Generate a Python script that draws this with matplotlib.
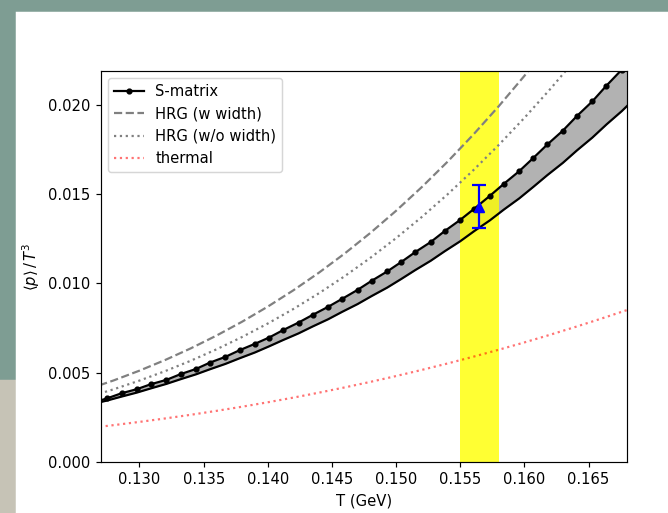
import matplotlib
matplotlib.use("Agg")
import matplotlib.pyplot as plt
from matplotlib.patches import Rectangle

# Temperatures of the S-matrix points (GeV)
T_smat = [0.1263, 0.1275, 0.1286, 0.1298, 0.1309, 0.1321, 0.1332, 0.1344, 0.1355,
          0.1367, 0.1378, 0.1390, 0.1401, 0.1412, 0.1424, 0.1435, 0.1447, 0.1458,
          0.1470, 0.1481, 0.1493, 0.1504, 0.1515, 0.1527, 0.1538, 0.1550, 0.1561,
          0.1573, 0.1584, 0.1596, 0.1607, 0.1618, 0.1630, 0.1641, 0.1653, 0.1664,
          0.1676, 0.1687]
# S-matrix curve (upper edge of band, with markers)
p_smat = [0.00331, 0.00357, 0.00385, 0.00408, 0.00436, 0.00460, 0.00492, 0.00521,
          0.00557, 0.00589, 0.00626, 0.00662, 0.00697, 0.00739, 0.00781, 0.00824,
          0.00869, 0.00914, 0.00964, 0.01015, 0.01067, 0.01120, 0.01176, 0.01232,
          0.01294, 0.01356, 0.01419, 0.01490, 0.01558, 0.01629, 0.01703, 0.01779,
          0.01856, 0.01938, 0.02020, 0.02108, 0.02198, 0.02290]
# lower edge of the band
p_low = [0.003239, 0.003448, 0.003663, 0.003889, 0.004126, 0.004375, 0.004636,
         0.004909, 0.005196, 0.005495, 0.005808, 0.006135, 0.006477, 0.006833,
         0.007204, 0.007591, 0.007993, 0.008411, 0.008845, 0.009296, 0.009764,
         0.010249, 0.010751, 0.011271, 0.011808, 0.012364, 0.012937, 0.013528,
         0.014137, 0.014764, 0.015410, 0.016073, 0.016754, 0.017453, 0.018170,
         0.018905, 0.019657, 0.020425]

# model curves
T_curve = [0.126, 0.128, 0.130, 0.132, 0.134, 0.136, 0.138, 0.140, 0.142, 0.144,
           0.146, 0.148, 0.150, 0.152, 0.154, 0.156, 0.158, 0.160, 0.162, 0.164,
           0.166, 0.168, 0.170]
p_hrg_w = [0.004079, 0.004573, 0.005117, 0.005713, 0.006366, 0.007080, 0.007858,
           0.008703, 0.009619, 0.010611, 0.011681, 0.012833, 0.014070, 0.015395,
           0.016811, 0.018321, 0.019925, 0.021625, 0.023423, 0.025318, 0.02731,
           0.02940, 0.03160]
p_hrg_wo = [0.003635, 0.004076, 0.004560, 0.005091, 0.005673, 0.006310, 0.007003,
            0.007756, 0.008572, 0.009457, 0.010410, 0.011437, 0.012539, 0.013720,
            0.014982, 0.016328, 0.017757, 0.019272, 0.020875, 0.022563, 0.024340,
            0.02620, 0.02815]
p_thermal = [0.001897, 0.002066, 0.002246, 0.002439, 0.002645, 0.002864, 0.003097,
             0.003345, 0.003607, 0.003885, 0.004179, 0.004488, 0.004814, 0.005157,
             0.005516, 0.005893, 0.006287, 0.006697, 0.007125, 0.007570, 0.008032,
             0.008510, 0.009004]

# lattice point and pseudo-critical band
T_lat = [0.1565]
p_lat = [0.0143]
p_lat_err = [0.0012]
Tc_band = (0.155, 0.158)

DPI = 106
fig = plt.figure(figsize=(668 / DPI, 513 / DPI), dpi=DPI, facecolor="#7e9d93")
# slide background: beige strip bottom left, white panel
fig.patches.append(Rectangle((0, 0), 16 / 668, 133 / 513, transform=fig.transFigure,
                             color="#c6c3b6", zorder=-10))
fig.patches.append(Rectangle((16 / 668, 0), 1, 501 / 513, transform=fig.transFigure,
                             color="white", zorder=-10))

ax = fig.add_axes([101 / 668, 51 / 513, 526 / 668, 391 / 513])

ax.fill_between(T_smat, p_low, p_smat, color="gray", alpha=0.6, lw=0, zorder=1)
ax.axvspan(Tc_band[0], Tc_band[1], color="yellow", alpha=0.8, lw=0, zorder=1.5)
ax.plot(T_smat, p_low, color="black", lw=1.5, zorder=3)
ax.plot(T_smat, p_smat, color="black", lw=1.5, marker="o", ms=3.2, zorder=3,
        label="S-matrix")
ax.plot(T_curve, p_hrg_w, color="gray", ls="--", lw=1.5, label="HRG (w width)", zorder=2)
ax.plot(T_curve, p_hrg_wo, color="gray", ls=":", lw=1.5, label="HRG (w/o width)", zorder=2)
ax.plot(T_curve, p_thermal, color="red", alpha=0.55, ls=":", lw=1.5, label="thermal", zorder=2)
ax.errorbar(T_lat, p_lat, yerr=p_lat_err, fmt="^", color="blue", ms=7, capsize=4.5,
            elinewidth=1.5, capthick=1.5, zorder=4)

ax.set_xlim(0.127, 0.168)
ax.set_ylim(0, 0.0219)
ax.set_xticks([0.130, 0.135, 0.140, 0.145, 0.150, 0.155, 0.160, 0.165])
ax.set_yticks([0.000, 0.005, 0.010, 0.015, 0.020])
ax.set_xlabel("T (GeV)")
ax.set_ylabel(r"$\langle p\rangle\,/\,T^3$")
ax.legend(loc="upper left")

fig.savefig("out.png", dpi=DPI, facecolor=fig.get_facecolor())
